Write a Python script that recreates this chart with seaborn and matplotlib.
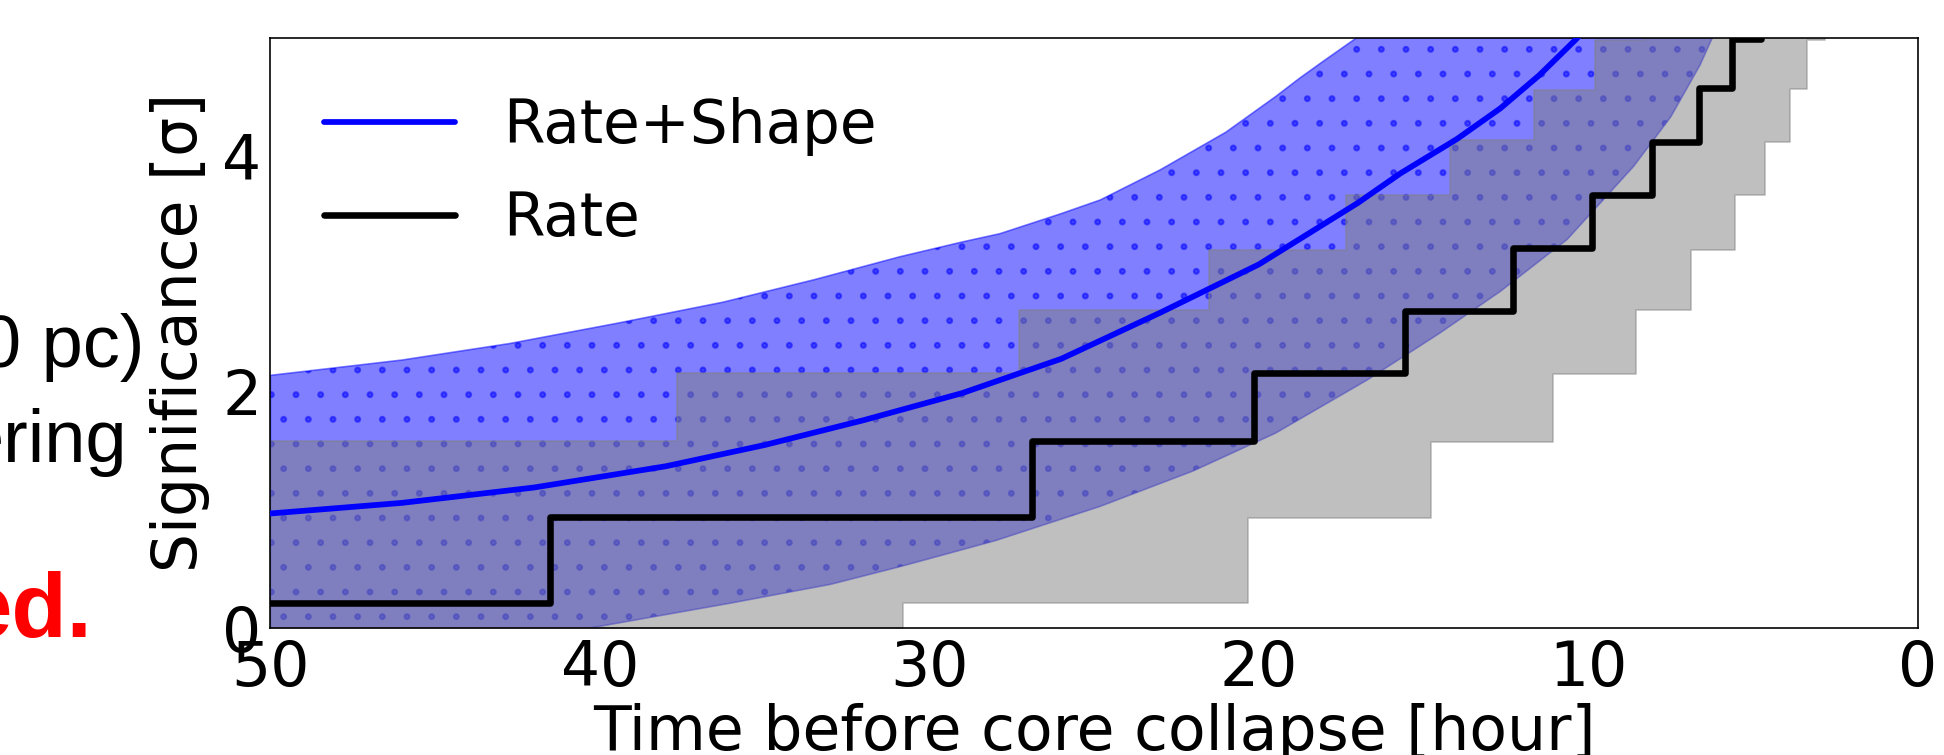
import numpy as np
import seaborn as sns
import matplotlib.pyplot as plt

# Rate+Shape: median significance and the edges of its band (hours before collapse)
t_mid = [50, 46, 42, 38, 35, 32, 29, 26, 23, 20, 17, 15.71, 14, 12.68, 11.5, 10.4, 9.5]
sig_mid = [0.97, 1.06, 1.19, 1.37, 1.55, 1.76, 1.99, 2.28, 2.67, 3.08, 3.6, 3.85, 4.14,
           4.40, 4.68, 4.98, 5.25]
t_up = [50, 46, 42.73, 39.5, 36.26, 33.5, 30.89, 29, 27.86, 26, 24.82, 23, 21, 19.5,
        18.75, 18.05, 17.03]
sig_up = [2.14, 2.27, 2.41, 2.58, 2.76, 2.95, 3.145, 3.27, 3.34, 3.51, 3.625, 3.88, 4.2,
          4.5, 4.66, 4.8, 5.0]
t_lo = [50, 45, 40.3, 36.05, 33, 30.89, 28, 24.82, 22, 19.5, 16.72, 14.5, 12.68, 10.65,
        8.63, 7.5, 6.61, 6.24]
sig_lo = [-0.45, -0.2, 0.0, 0.21, 0.37, 0.52, 0.74, 1.03, 1.33, 1.65, 2.1, 2.5, 2.85,
          3.29, 3.91, 4.33, 4.77, 5.0]

# Rate only: step function and its band
rate_t = [50, 41.5, 26.9, 20.15, 15.57, 12.3, 9.89, 8.07, 6.65, 5.65, 4.75]
rate_sig = [0.21, 0.94, 1.585, 2.16, 2.685, 3.215, 3.67, 4.12, 4.57, 4.99]
band_hi_t = [50, 37.67, 27.27, 21.53, 17.35, 14.19, 11.66, 9.79, 8.3, 2.81]
band_hi_sig = [1.585, 2.16, 2.69, 3.2, 3.67, 4.13, 4.56, 4.98, 5.5]
band_lo_t = [50, 30.81, 20.33, 14.77, 11.08, 8.55, 6.89, 5.54, 4.64, 3.88, 3.37, 2.81]
band_lo_sig = [0.0, 0.21, 0.935, 1.575, 2.155, 2.69, 3.2, 3.67, 4.12, 4.565, 4.98]

x_ticks = [50, 40, 30, 20, 10, 0]
y_ticks = [0, 2, 4]


def step_at(edges, levels, x):
    # value of a step function whose edges run from late to early times
    idx = np.searchsorted(-np.asarray(edges), -x, side="right") - 1
    idx = np.clip(idx, 0, len(levels) - 1)
    return np.asarray(levels)[idx]


sns.set_style("white")
plt.rcParams["hatch.linewidth"] = 1.0
plt.rcParams["text.color"] = "black"
plt.rcParams["axes.labelcolor"] = "black"

DPI = 148
fig = plt.figure(figsize=(1944 / DPI, 755 / DPI), dpi=DPI)
ax = fig.add_axes([0.1391, 0.1682, 0.8475, 0.7819])

# blue band with dots
ax.fill(np.r_[t_up, t_lo[::-1]], np.r_[sig_up, sig_lo[::-1]],
        color="blue", alpha=0.5, hatch=".", lw=0.8, zorder=1)

# grey band of the rate-only result
grid = np.unique(np.r_[band_hi_t, band_lo_t])[::-1]
ax.fill_between(grid, step_at(band_lo_t, band_lo_sig, grid),
                step_at(band_hi_t, band_hi_sig, grid),
                step="post", color="0.5", alpha=0.5, lw=0.8, zorder=2)

sns.lineplot(x=t_mid, y=sig_mid, color="blue", lw=2.8, label="Rate+Shape",
             sort=False, estimator=None, ax=ax, zorder=3)
sns.lineplot(x=rate_t, y=rate_sig + [rate_sig[-1]], color="black", lw=3.2,
             drawstyle="steps-post", label="Rate", sort=False, estimator=None,
             ax=ax, zorder=4)

ax.set_xlim(50, 0)
ax.set_ylim(0, 5)
ax.set_xticks(x_ticks)
ax.set_yticks(y_ticks)
ax.tick_params(direction="in", length=3.9, width=0.8, labelsize=30, colors="black")
ax.tick_params(axis="x", pad=5.5)
ax.tick_params(axis="y", pad=4.5)
for s in ax.spines.values():
    s.set_linewidth(0.8)
    s.set_color("black")

ax.set_xlabel("Time before core collapse [hour]", fontsize=30, labelpad=2)
ax.set_ylabel("Significance [σ]", fontsize=30, labelpad=6)

ax.legend(loc="upper left", bbox_to_anchor=(0, 0.99), frameon=False, fontsize=29,
          handlelength=2.2, handletextpad=0.8, labelspacing=0.57)

# pieces of the slide text next to the plot
fig.text(145 / 1944, 1 - 367 / 755, "0 pc)", ha="right", va="baseline",
         fontsize=36, family="Liberation Sans")
fig.text(128 / 1944, 1 - 462 / 755, "ering", ha="right", va="baseline",
         fontsize=36, family="Liberation Sans")
fig.text(92 / 1944, 1 - 637 / 755, "ed.", ha="right", va="baseline",
         fontsize=44, family="Liberation Sans", weight="bold", color="red")

fig.savefig("out.png", dpi=DPI)
